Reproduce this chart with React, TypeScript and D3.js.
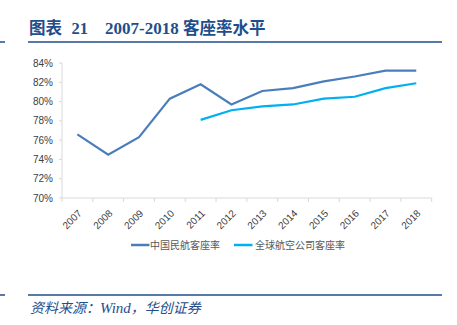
import React from "react";
import * as d3 from "d3";

const years = ["2007","2008","2009","2010","2011","2012","2013","2014","2015","2016","2017","2018"];
const chinaLF = [76.6, 74.5, 76.3, 80.3, 81.8, 79.7, 81.1, 81.4, 82.1, 82.6, 83.2, 83.2];
const globalYears = ["2011","2012","2013","2014","2015","2016","2017","2018"];
const globalLF = [78.1, 79.1, 79.5, 79.7, 80.3, 80.5, 81.4, 81.9];
const yTicks = [70, 72, 74, 76, 78, 80, 82, 84];
const seriesNames = ["中国民航客座率", "全球航空公司客座率"];

const W = 457, H = 325;
const left = 62, right = 431.7, top = 63, bottom = 198;
const blue1 = "#4a7ebb", blue2 = "#00b0f0";
const navy = "#1f4e8c";

export default function App() {
  const x = d3.scaleBand<string>().domain(years).range([left, right]);
  const y = d3.scaleLinear().domain([70, 84]).range([bottom, top]);
  const cx = (yr: string) => (x(yr) as number) + x.bandwidth() / 2;
  const line = d3.line<[string, number]>().x(d => cx(d[0])).y(d => y(d[1]));
  const chinaPts = years.map((yr, i) => [yr, chinaLF[i]] as [string, number]);
  const globalPts = globalYears.map((yr, i) => [yr, globalLF[i]] as [string, number]);
  const boundaries = [...years.map(yr => x(yr) as number), right];

  return (
    <svg width={W} height={H} style={{ position: "absolute", left: 0, top: 0 }}>
      <rect width={W} height={H} fill="#fff" />
      {/* Title */}
      <text y={34} fill={navy} fontSize={16.5} fontWeight="bold" fontFamily="'Liberation Serif','Noto Sans CJK SC',serif">
        <tspan x={29} fontFamily="'Noto Sans CJK SC'">图表</tspan>
        <tspan x={71.5}>21</tspan>
        <tspan x={105} fontSize={17}>2007-2018</tspan>
        <tspan x={183} fontFamily="'Noto Sans CJK SC'">客座率水平</tspan>
      </text>
      <line x1={0} x2={5} y1={42} y2={42} stroke={navy} strokeWidth={1.5} />
      <line x1={28} x2={442} y1={42} y2={42} stroke={navy} strokeWidth={1.5} />

      {/* Y axis */}
      <line x1={left} x2={left} y1={top} y2={bottom} stroke="#d9d9d9" />
      {yTicks.map(t => (
        <g key={t}>
          <line x1={left - 3} x2={left} y1={y(t)} y2={y(t)} stroke="#d9d9d9" />
          <text x={left - 9} y={y(t) + 3.5} textAnchor="end" fontSize={10} fill="#404040" fontFamily="'Liberation Sans',Arial,sans-serif">{t}%</text>
        </g>
      ))}
      {/* X axis */}
      <line x1={left} x2={right} y1={bottom} y2={bottom} stroke="#d9d9d9" />
      {boundaries.map((b, i) => (
        <line key={i} x1={b} x2={b} y1={bottom} y2={bottom + 4} stroke="#d9d9d9" />
      ))}
      {years.map(yr => (
        <text key={yr} transform={`translate(${cx(yr) + 5},${bottom + 16}) rotate(-45)`} textAnchor="end" fontSize={10} fill="#404040" fontFamily="'Liberation Sans',Arial,sans-serif">{yr}</text>
      ))}

      {/* Lines */}
      <path d={line(chinaPts) || ""} fill="none" stroke={blue1} strokeWidth={2.2} />
      <path d={line(globalPts) || ""} fill="none" stroke={blue2} strokeWidth={2.2} />

      {/* Legend */}
      <line x1={131} x2={149.5} y1={245} y2={245} stroke={blue1} strokeWidth={2.5} />
      <text x={150} y={248.5} fontSize={10} fill="#595959" fontFamily="'Noto Sans CJK SC',sans-serif">{seriesNames[0]}</text>
      <line x1={234} x2={252.5} y1={245} y2={245} stroke={blue2} strokeWidth={2.5} />
      <text x={255} y={248.5} fontSize={10} fill="#595959" fontFamily="'Noto Sans CJK SC',sans-serif">{seriesNames[1]}</text>

      {/* Footer */}
      <line x1={0} x2={5} y1={295} y2={295} stroke={navy} strokeWidth={1.5} />
      <line x1={28} x2={442} y1={295} y2={295} stroke={navy} strokeWidth={1.5} />
      <text x={30} y={313} fill={navy} fontSize={14} fontStyle="italic" fontFamily="'Liberation Serif','Noto Sans CJK SC',serif">
        <tspan>资料来源：</tspan><tspan fontSize={15}>Wind</tspan><tspan>，华创证券</tspan>
      </text>
    </svg>
  );
}
